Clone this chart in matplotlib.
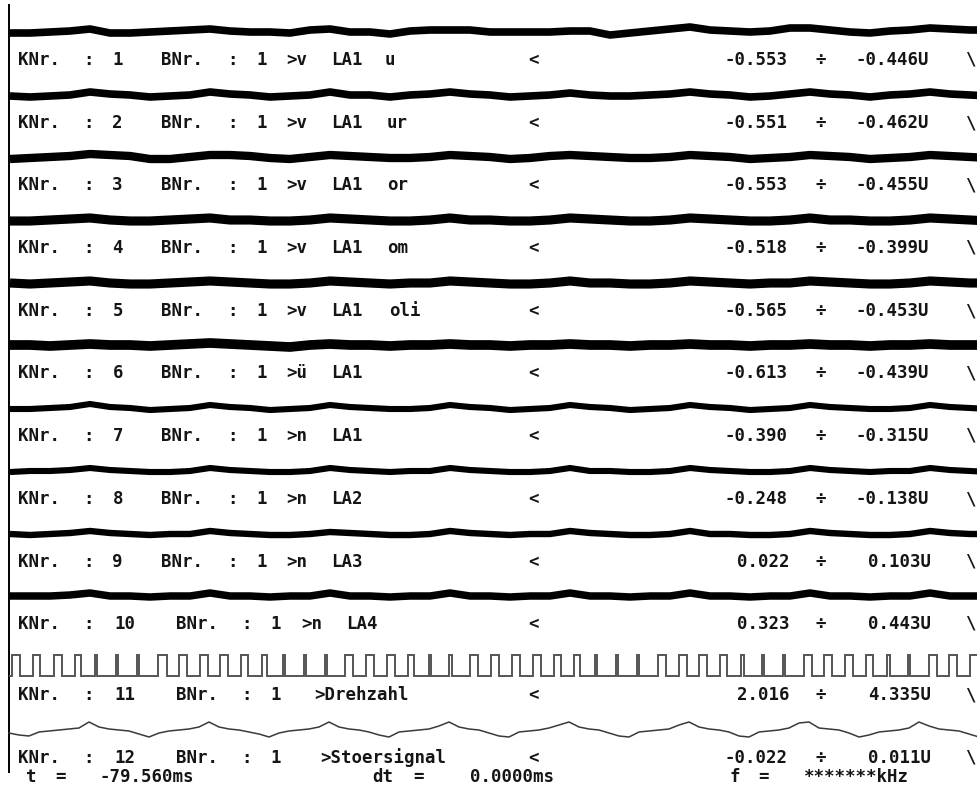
import re
import numpy as np
import matplotlib
matplotlib.use("Agg")
import matplotlib.pyplot as plt

# ------------------------------------------------------------------ data
channel_no = list(range(1, 13))
board_no = [1] * 12
names = [">v LA1 u", ">v LA1 ur", ">v LA1 or", ">v LA1 om", ">v LA1 oli",
         ">ü LA1", ">n LA1", ">n LA2", ">n LA3", ">n LA4",
         ">Drehzahl", ">Stoersignal"]
range_low = ["-0.553", "-0.551", "-0.553", "-0.518", "-0.565", "-0.613",
             "-0.390", "-0.248", "0.022", "0.323", "2.016", "-0.022"]
range_high = ["-0.446", "-0.462", "-0.455", "-0.399", "-0.453", "-0.439",
              "-0.315", "-0.138", "0.103", "0.443", "4.335", "0.011"]
cursor_t = "-79.560ms"
cursor_dt = "0.0000ms"
cursor_f = "*******kHz"

# noisy channels 1..10: slow wander of the trace (screen px, + = down), 50 samples per sweep
trace_1 = [1, 1, 0, -1, -3, 1, 1, 0, -1, -2, -3, -1, 0, 0, 1, -2, -3, 0, 0, 2,
           -1, -2, -2, -2, 0, 0, 0, 0, -1, -1, 3, 1, -1, -3, -5, -2, -1, 0, -1, -4,
           -4, -2, 0, 1, -1, -2, -4, -3, -2, -2]
trace_2 = [1, 2, 1, 0, -3, -1, 0, 2, 1, 0, -3, -1, 0, 2, 1, 0, -3, 0, 0, 2,
           0, -1, -3, -1, 0, 2, 1, 0, -2, 0, 1, 1, 0, -1, -3, -1, 0, 2, 1, -1,
           -3, -1, 0, 2, 0, -1, -3, -1, 0, 1]
trace_3 = [2, 1, 0, -1, -3, -2, -1, 2, 2, 0, -2, -2, -1, 1, 2, 0, -2, -1, 0, 1,
           1, 0, -2, -1, 0, 2, 1, -1, -2, -1, 0, 1, 1, 0, -2, -1, 0, 2, 1, 0,
           -2, -1, 0, 2, 1, 0, -2, -1, 0, 1]
trace_4 = [1, 1, 0, -1, -2, 0, 1, 1, 0, -1, -2, 0, 0, 1, 1, 0, -2, -1, 0, 1,
           1, 0, -2, 0, 0, 1, 1, 0, -2, -1, 0, 1, 1, 0, -2, -1, 0, 1, 1, 0,
           -2, 0, 0, 1, 1, 0, -2, -1, 0, 1]
trace_5 = [0, 1, 0, -1, -2, 0, 1, 1, 0, -1, -2, -1, 0, 1, 1, 0, -2, -1, 0, 1,
           0, 0, -2, -1, 0, 1, 1, 0, -2, 0, 0, 1, 1, 0, -2, -1, 0, 1, 0, 0,
           -2, -1, 0, 1, 1, 0, -2, -1, 0, 0]
trace_6 = [0, 0, 1, 0, -1, 0, 0, 1, 0, -1, -2, -1, 0, 1, 2, 0, -1, 0, 0, 1,
           0, 0, -1, 0, 0, 1, 0, 0, -1, 0, 0, 1, 0, 0, -1, 0, 0, 1, 0, 0,
           -1, 0, 0, 1, 0, 0, -1, 0, 0, 0]
trace_7 = [1, 1, 0, -1, -4, -1, 0, 2, 1, 0, -3, -1, 0, 2, 1, 0, -3, -1, 0, 1,
           1, 0, -3, -1, 0, 2, 1, 0, -3, -1, 0, 2, 1, 0, -3, -1, 0, 2, 1, 0,
           -3, -1, 0, 1, 1, 0, -3, -1, 0, 1]
trace_8 = [1, 0, 0, -1, -3, -1, 0, 1, 1, 0, -3, -1, 0, 1, 1, 0, -3, -1, 0, 1,
           0, 0, -3, -1, 0, 1, 1, 0, -3, 0, 0, 1, 1, 0, -3, -1, 0, 1, 1, 0,
           -3, -1, 0, 1, 0, 0, -3, -1, 0, 1]
trace_9 = [0, 1, 0, -1, -3, -1, 0, 1, 0, 0, -3, -1, 0, 1, 1, 0, -2, -1, 0, 1,
           1, 0, -3, -1, 0, 1, 0, 0, -3, -1, 0, 1, 1, 0, -3, 0, 0, 1, 1, 0,
           -3, -1, 0, 1, 1, 0, -3, -1, 0, 0]
trace_10 = [0, 0, 0, -1, -3, 0, 0, 1, 0, 0, -3, 0, 0, 1, 0, 0, -3, 0, 0, 1,
            0, 0, -3, 0, 0, 1, 0, 0, -3, 0, 0, 1, 0, 0, -3, 0, 0, 1, 0, 0,
            -3, 0, 0, 1, 0, 0, -3, 0, 0, 0]
noisy_traces = [trace_1, trace_2, trace_3, trace_4, trace_5,
                trace_6, trace_7, trace_8, trace_9, trace_10]

# channel 11 (Drehzahl): rising edges and high times of the pulses (screen px)
pulse_start = [12, 33, 54, 75, 95, 116, 137, 158, 179, 200, 220, 241, 262, 283,
               304, 325, 345, 366, 387, 408, 429, 449, 470, 491, 512, 533, 554,
               574, 595, 616, 637, 658, 679, 699, 720, 741, 762, 783, 804, 824,
               845, 866, 887, 908, 929, 949, 970]
pulse_width = [8, 7, 8, 6, 2, 2, 2, 9, 8, 8, 8, 7, 5, 2, 2, 2, 8, 8, 8, 6,
               2, 3, 8, 8, 8, 8, 7, 6, 2, 2, 2, 8, 8, 8, 7, 3, 2, 2, 8, 8,
               8, 7, 3, 2, 8, 8, 8]

# channel 12 (Stoersignal): 98 samples per sweep (screen px, + = down)
stoer = [2, 4, 5, 1, 0, -1, -2, -3, -9, -4, -2, -1, 0, 3, 6, 2, 0, -1, -2, -4,
         -9, -4, -2, -1, 1, 3, 6, 2, 0, -1, -2, -4, -9, -4, -2, -1, 1, 4, 6, 1,
         0, -1, -2, -5, -9, -4, -2, -1, 2, 5, 6, 1, 0, -1, -3, -6, -9, -4, -2, -1,
         2, 5, 6, 1, 0, -1, -2, -6, -9, -4, -2, -1, 1, 5, 6, 1, 0, -1, -3, -8,
         -9, -3, -2, -1, 2, 6, 4, 1, 0, -1, -3, -9, -5, -2, -1, 0, 3, 6]

# ------------------------------------------------------------------ layout
W, H = 978, 790
x_left = 9
pitch = 14.35
label_y = [60, 123, 185, 248, 311, 373, 436, 499, 562, 624, 695, 758]
trace_center = [y - 28 for y in label_y[:10]]
trace_lw = [5.5, 5.5, 6.0, 6.6, 6.6, 7.0, 4.4, 4.4, 4.6, 5.4]
pulse_high, pulse_low = 655, 676
stoer_base = 731
bottom_y = 777

fig = plt.figure(figsize=(W / 100, H / 100), dpi=100)
fig.patch.set_facecolor("white")
ax = fig.add_axes([0, 0, 1, 1])
ax.set_xlim(0, W)
ax.set_ylim(H, 0)
ax.axis("off")

# left axis line
ax.axvline(x_left, ymin=1 - 772 / H, ymax=1 - 5 / H, color="black", lw=1.4)

# noisy channels
sweep = np.linspace(x_left + 1, x_left + 1 + 20 * 49, 50)
for tr, yc, lw in zip(noisy_traces, trace_center, trace_lw):
    ax.plot(sweep, yc + np.asarray(tr), color="black", lw=lw,
            solid_joinstyle="round", solid_capstyle="butt")

# pulse train
px, py = [x_left + 1], [pulse_low]
for s, w in zip(pulse_start, pulse_width):
    px += [s, s, s + w, s + w]
    py += [pulse_low, pulse_high, pulse_high, pulse_low]
px.append(W + 5)
py.append(pulse_low)
ax.plot(px, py, color="#555555", lw=1.4, solid_joinstyle="miter")

# Stoersignal
sweep12 = np.linspace(x_left, x_left + 10 * (len(stoer) - 1), len(stoer))
ax.plot(sweep12, stoer_base + np.asarray(stoer), color="#3a3a3a", lw=1.1)

# ------------------------------------------------------------------ text
font = dict(family="DejaVu Sans Mono", weight="bold", size=12.5, color="#151515")


def draw_row(s, y):
    for m in re.finditer(r"\S+", s):
        w = m.group(0)
        xc = x_left + 1 + (m.start() + len(w) / 2) * pitch
        xc = min(xc, W - 8)
        ax.text(xc, y, w, ha="center", va="center", **font)


for i in range(12):
    left = f"KNr. : {channel_no[i]}  BNr. : {board_no[i]} {names[i]}"
    s = left.ljust(36) + "<" + " " * 12
    s += f"{range_low[i]:>6} \u00f7 {range_high[i]:>6}U  \\"
    draw_row(s, label_y[i])

bottom = " t = " + cursor_t
bottom = bottom.ljust(25) + "dt =  " + cursor_dt
bottom = bottom.ljust(50) + "f = " + cursor_f
draw_row(bottom, bottom_y)

fig.savefig("out.png", dpi=100, facecolor="white")
